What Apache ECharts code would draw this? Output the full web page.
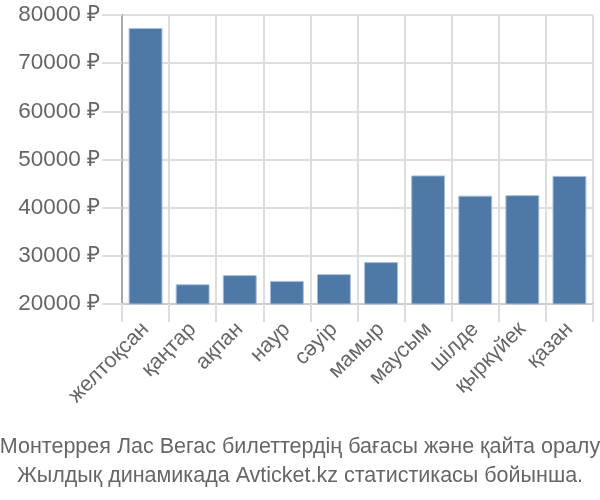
<!DOCTYPE html>
<html>
<head>
<meta charset="utf-8">
<script src="https://cdn.jsdelivr.net/npm/echarts@6/dist/echarts.min.js"></script>
<style>html,body{margin:0;padding:0;background:#fff}#c{width:600px;height:500px}</style>
</head>
<body>
<div id="c"></div>
<script>
var categories = ['желтоқсан','қаңтар','ақпан','наур','сәуір','мамыр','маусым','шілде','қыркүйек','қазан'];
var prices = [77300, 24100, 26000, 24800, 26200, 28700, 46700, 42500, 42600, 46600];
var yTicks = {min: 20000, max: 80000, interval: 10000};
var titleText = 'Монтеррея Лас Вегас билеттердің бағасы және қайта оралу\nЖылдық динамикада Avticket.kz статистикасы бойынша.';

var chart = echarts.init(document.getElementById('c'), null, {renderer: 'canvas'});
chart.setOption({
  animation: false,
  title: {
    text: titleText,
    left: 'center',
    top: 428,
    textStyle: {fontFamily: 'Liberation Sans', fontSize: 21.5, fontWeight: 'normal', color: '#666', lineHeight: 29}
  },
  grid: {left: 122, right: 7, top: 15, bottom: 196, containLabel: false},
  xAxis: {
    type: 'category',
    data: categories,
    axisLine: {show: true, lineStyle: {color: '#ccc', width: 2}},
    axisTick: {show: true, length: 18, lineStyle: {color: '#ddd', width: 2}},
    splitLine: {show: true, lineStyle: {color: '#ddd', width: 2}},
    axisLabel: {rotate: 45, margin: 22, fontFamily: 'Liberation Sans', fontSize: 21.5, color: '#666', interval: 0}
  },
  yAxis: {
    type: 'value',
    min: yTicks.min, max: yTicks.max, interval: yTicks.interval,
    axisLine: {show: true, lineStyle: {color: '#aaa', width: 2}},
    axisTick: {show: true, length: 20, lineStyle: {color: '#ddd', width: 2}},
    splitLine: {show: true, lineStyle: {color: '#ddd', width: 2}},
    axisLabel: {margin: 22, fontFamily: 'Liberation Sans', fontSize: 22.5, color: '#666', formatter: function(v){return v + ' ₽';}}
  },
  series: [{
    type: 'bar',
    data: prices,
    barCategoryGap: '28%',
    itemStyle: {color: '#4e79a7', borderColor: '#a9bfd8', borderWidth: 1}
  }]
});
</script>
</body>
</html>
